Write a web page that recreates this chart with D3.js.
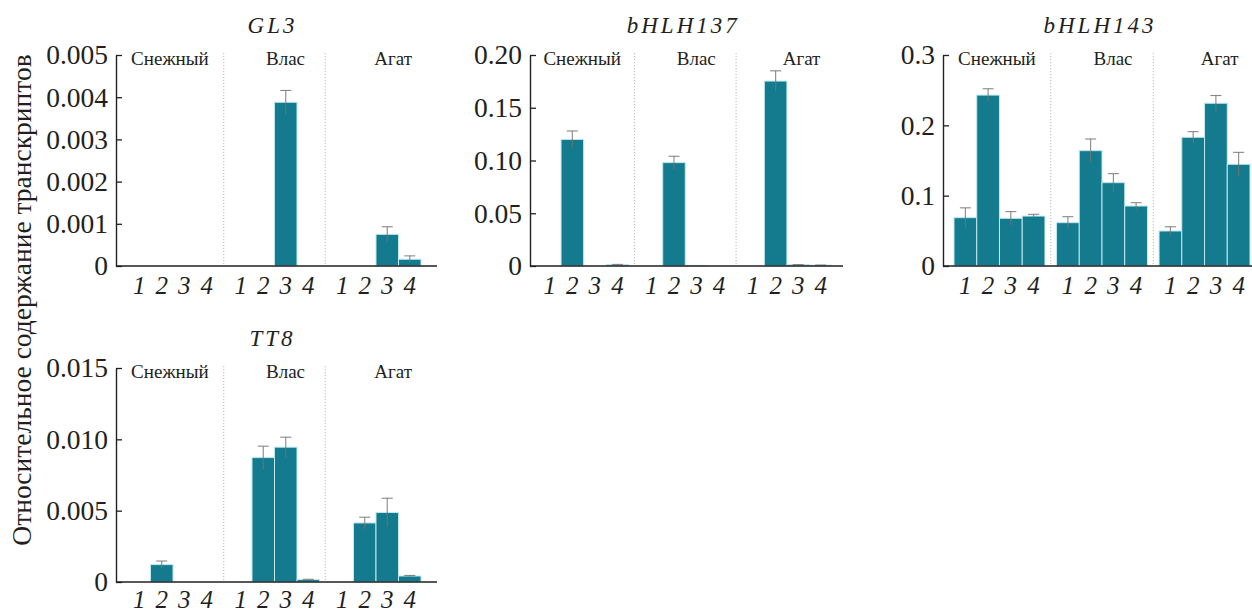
<!DOCTYPE html>
<html>
<head>
<meta charset="utf-8">
<script src="https://cdn.jsdelivr.net/npm/d3@7"></script>
<style>
  html, body { margin: 0; padding: 0; background: #fff; }
  svg { display: block; }
</style>
</head>
<body>
<svg id="chart" width="1252" height="613"></svg>
<script>
// Cultivars and developmental stages
const varieties = ["Снежный", "Влас", "Агат"];
const stages = ["1", "2", "3", "4"];
const genes = ["GL3", "bHLH137", "bHLH143", "TT8"];
const yTitle = "Относительное содержание транскриптов";

// Relative transcript levels, ordered variety by variety, stages 1–4
const gl3Values = [0, 0, 0, 0,   0, 0, 0.00388, 0,   0, 0, 0.00075, 0.00016];
const gl3Errors = [0, 0, 0, 0,   0, 0, 0.00028, 0,   0, 0, 0.00018, 0.00008];

const bhlh137Values = [0, 0.120, 0, 0.0012,   0, 0.098, 0.0005, 0,   0, 0.1753, 0.0012, 0.0008];
const bhlh137Errors = [0, 0.008, 0, 0.0003,   0, 0.006, 0, 0,        0, 0.0097, 0.0002, 0.0001];

const bhlh143Values = [0.0687, 0.243, 0.0678, 0.071,   0.0616, 0.164, 0.1185, 0.0853,   0.0498, 0.183, 0.2314, 0.1446];
const bhlh143Errors = [0.014, 0.009, 0.0095, 0.0025,   0.0085, 0.0166, 0.0128, 0.0047,   0.006, 0.008, 0.011, 0.017];

const tt8Values = [0, 0.00122, 0, 0,   0, 0.00872, 0.00945, 0.00017,   0, 0.00414, 0.00487, 0.00042];
const tt8Errors = [0, 0.00025, 0, 0,   0, 0.0008, 0.0007, 0.00002,     0, 0.0004, 0.001, 0.00004];

// Y-axis ticks and their printed labels
const gl3Ticks = [0, 0.001, 0.002, 0.003, 0.004, 0.005];
const gl3TickLabels = ["0", "0.001", "0.002", "0.003", "0.004", "0.005"];
const bhlh137Ticks = [0, 0.05, 0.10, 0.15, 0.20];
const bhlh137TickLabels = ["0", "0.05", "0.10", "0.15", "0.20"];
const bhlh143Ticks = [0, 0.1, 0.2, 0.3];
const bhlh143TickLabels = ["0", "0.1", "0.2", "0.3"];
const tt8Ticks = [0, 0.005, 0.010, 0.015];
const tt8TickLabels = ["0", "0.005", "0.010", "0.015"];

const FONT = "Liberation Serif";
const BAR = "#147b8f";
const BAR_EDGE = "#bfe8ef";
const INK = "#231f20";
const ERR = "#737373";

const panels = [
  { gene: genes[0], values: gl3Values, errors: gl3Errors, ticks: gl3Ticks, labels: gl3TickLabels,
    axisX: 116, axisEnd: 437, barStart: 128, barEnd: 421, top: 55, bottom: 266, titleY: 33, xPad: 10 },
  { gene: genes[1], values: bhlh137Values, errors: bhlh137Errors, ticks: bhlh137Ticks, labels: bhlh137TickLabels,
    axisX: 530, axisEnd: 843, barStart: 538.5, barEnd: 832, top: 55, bottom: 266, titleY: 33, xPad: 10 },
  { gene: genes[2], values: bhlh143Values, errors: bhlh143Errors, ticks: bhlh143Ticks, labels: bhlh143TickLabels,
    axisX: 943, axisEnd: 1262, barStart: 954, barEnd: 1250, top: 55, bottom: 266, titleY: 33, xPad: 10 },
  { gene: genes[3], values: tt8Values, errors: tt8Errors, ticks: tt8Ticks, labels: tt8TickLabels,
    axisX: 116, axisEnd: 437, barStart: 128, barEnd: 421, top: 368, bottom: 582, titleY: 346, xPad: 8 }
];

// Label nudges within each variety section
const varietyShift = [0, 11, 12];

const svg = d3.select("#chart").attr("font-family", FONT);

// Shared y-axis title
svg.append("text")
  .attr("transform", "translate(21,300) rotate(-90)")
  .attr("text-anchor", "middle")
  .attr("dominant-baseline", "central")
  .attr("font-family", FONT)
  .attr("font-size", 27.5)
  .attr("fill", INK)
  .text(yTitle);

panels.forEach(p => {
  const g = svg.append("g").attr("font-family", FONT);
  const ymax = p.ticks[p.ticks.length - 1];
  const y = d3.scaleLinear().domain([0, ymax]).range([p.bottom, p.top]);

  const xGroup = d3.scaleBand().domain(varieties)
    .range([p.barStart, p.barEnd]).paddingInner(0.113).paddingOuter(0);
  const xStage = d3.scaleBand().domain(stages)
    .range([0, xGroup.bandwidth()]).padding(0);

  const rows = [];
  varieties.forEach((v, vi) => stages.forEach((s, si) => {
    const k = vi * stages.length + si;
    rows.push({ variety: v, stage: s, value: p.values[k], err: p.errors[k] });
  }));

  // Dotted dividers between cultivars
  const step = xGroup.step();
  const gap = step - xGroup.bandwidth();
  for (let i = 1; i < varieties.length; i++) {
    const xd = xGroup(varieties[i]) - gap / 2;
    g.append("line")
      .attr("x1", xd).attr("x2", xd)
      .attr("y1", p.top - 2).attr("y2", p.bottom)
      .attr("stroke", "#b5b9bc").attr("stroke-width", 1)
      .attr("stroke-dasharray", "1.2,1.8");
  }

  // Cultivar labels
  varieties.forEach((v, i) => {
    const left = i === 0 ? p.axisX : xGroup(v) - gap / 2;
    const right = i === varieties.length - 1 ? Math.min(p.axisEnd, 1262) : xGroup(varieties[i + 1]) - gap / 2;
    g.append("text")
      .attr("x", (left + right) / 2 + varietyShift[i])
      .attr("y", p.top + 10)
      .attr("text-anchor", "middle")
      .attr("font-family", FONT)
      .attr("font-size", 19)
      .attr("fill", INK)
      .text(v);
  });

  // Bars
  g.selectAll("rect.bar").data(rows.filter(d => d.value > 0)).join("rect")
    .attr("class", "bar")
    .attr("x", d => xGroup(d.variety) + xStage(d.stage))
    .attr("width", xStage.bandwidth())
    .attr("y", d => y(d.value))
    .attr("height", d => y(0) - y(d.value))
    .attr("fill", BAR)
    .attr("stroke", BAR_EDGE)
    .attr("stroke-width", 1);

  // Error bars
  const capHalf = 5.5;
  const eb = g.selectAll("g.err").data(rows.filter(d => d.value > 0 && d.err > 0)).join("g")
    .attr("class", "err")
    .attr("transform", d => `translate(${xGroup(d.variety) + xStage(d.stage) + xStage.bandwidth() / 2},0)`);
  eb.append("line")
    .attr("x1", 0).attr("x2", 0)
    .attr("y1", d => y(d.value + d.err))
    .attr("y2", d => y(Math.max(0, d.value - d.err)))
    .attr("stroke", ERR).attr("stroke-width", 1.1).attr("stroke-opacity", 0.85);
  eb.append("line")
    .attr("x1", -capHalf).attr("x2", capHalf)
    .attr("y1", d => y(d.value + d.err)).attr("y2", d => y(d.value + d.err))
    .attr("stroke", ERR).attr("stroke-width", 1.1).attr("stroke-opacity", 0.85);

  // Y axis: inward ticks, labels on the left
  const yAxis = d3.axisLeft(y)
    .tickValues(p.ticks)
    .tickFormat((d, i) => p.labels[i])
    .tickSizeInner(-6)
    .tickSizeOuter(0)
    .tickPadding(8);
  const ya = g.append("g").attr("transform", `translate(${p.axisX},0)`).call(yAxis)
    .attr("font-family", FONT).attr("font-size", 27.5);
  ya.select(".domain").attr("stroke", INK).attr("stroke-width", 1.4);
  ya.selectAll(".tick line").attr("stroke", INK).attr("stroke-width", 1.3);
  ya.selectAll(".tick text")
    .attr("font-family", FONT)
    .attr("font-size", 27.5)
    .attr("fill", INK);

  // X axis baseline
  g.append("line")
    .attr("x1", p.axisX).attr("x2", p.axisEnd)
    .attr("y1", p.bottom).attr("y2", p.bottom)
    .attr("stroke", INK).attr("stroke-width", 1.4);

  // Stage labels under each cultivar
  varieties.forEach(v => {
    const xa = g.append("g")
      .attr("transform", `translate(${xGroup(v)},${p.bottom})`)
      .call(d3.axisBottom(xStage).tickSize(0).tickPadding(p.xPad))
      .attr("font-family", FONT).attr("font-size", 25);
    xa.select(".domain").remove();
    xa.selectAll(".tick text")
      .attr("font-family", FONT)
      .attr("font-style", "italic")
      .attr("font-size", 25)
      .attr("fill", INK);
  });

  // Gene title
  g.append("text")
    .attr("x", (p.barStart + p.barEnd) / 2 - 2)
    .attr("y", p.titleY)
    .attr("text-anchor", "middle")
    .attr("font-family", FONT)
    .attr("font-style", "italic")
    .attr("font-size", 23)
    .attr("letter-spacing", 3)
    .attr("fill", INK)
    .text(p.gene);
});
</script>
</body>
</html>
